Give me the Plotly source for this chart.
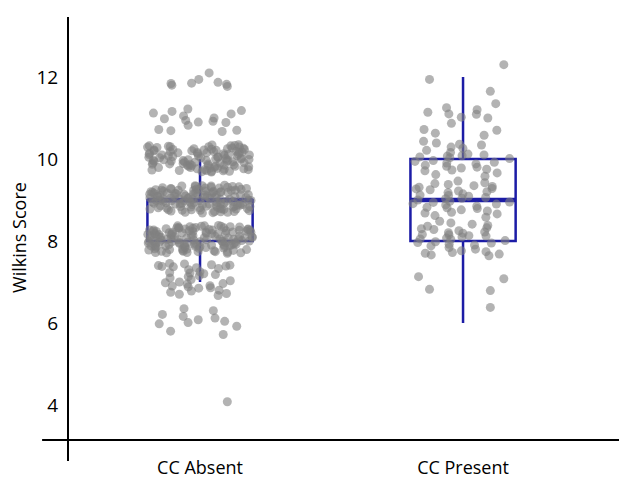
import plotly.graph_objects as go

categories = ["CC Absent", "CC Present"]

# ---- CC Absent: scores, grouped by score level ----
absent_12 = [12.10, 11.94, 11.77, 11.84, 11.82, 11.87, 11.80, 11.85]
absent_11 = [11.18, 11.16, 11.05, 11.10, 11.00, 11.12, 11.22, 10.98, 10.90,
             10.92, 10.89, 10.94, 10.67, 10.69, 10.72, 10.70, 10.82]
absent_10 = [
    10.34, 10.30, 10.25, 10.20, 10.15, 10.10, 10.05, 9.99, 9.92, 9.84, 9.74,
    10.32, 10.27, 10.22, 10.17, 10.12, 10.07, 10.02, 9.96, 9.88, 9.79, 9.70,
    10.33, 10.28, 10.23, 10.18, 10.13, 10.08, 10.03, 9.94, 9.86, 9.77,
    10.31, 10.26, 10.21, 10.16, 10.11, 10.06, 10.00, 9.93, 9.82, 9.72,
    10.35, 10.29, 10.24, 10.19, 10.14, 10.09, 10.04, 9.90, 9.81,
    10.30, 10.25, 10.20, 10.15, 10.10, 10.01, 9.97, 9.87, 9.76,
    10.32, 10.23, 10.18, 10.13, 10.08, 10.03, 9.95, 9.85,
    10.29, 10.22, 10.16, 10.11, 10.04, 9.98, 9.89, 9.68,
    9.98, 9.95, 9.91, 9.88, 9.85, 9.83, 9.80, 9.78, 9.75, 9.73, 9.71, 9.69,
    9.93, 9.87, 9.82, 9.76, 9.74, 9.70, 9.97, 9.90, 9.84, 9.79, 9.72, 10.00,
    9.96,
]
absent_9 = [
    9.35, 9.25, 9.11, 8.99, 8.88, 8.75, 9.30, 9.18, 9.05, 8.94, 8.81, 8.70,
    9.33, 9.22, 9.14, 9.03, 8.92, 8.79, 9.28, 9.16, 9.08, 8.97, 8.85, 8.72,
    9.36, 9.23, 9.12, 9.01, 8.90, 8.78, 9.26, 9.20, 9.04, 8.96, 8.84, 8.74,
    9.32, 9.21, 9.09, 8.98, 8.87, 8.77, 9.29, 9.15, 9.06, 8.93, 8.83, 8.69,
    9.34, 9.19, 9.12, 9.02, 8.90, 8.80, 9.24, 9.17, 9.03, 8.95, 8.86, 8.71,
    9.31, 9.23, 9.10, 9.00, 8.89, 8.76, 9.27, 9.13, 9.05, 8.93, 8.82, 8.73,
    9.33, 9.19, 9.08, 8.98, 8.88, 8.78, 9.29, 9.16, 9.07, 8.91, 8.81, 8.70,
    9.35, 9.26, 9.11, 9.04, 8.91, 8.75, 9.21, 9.14, 9.00, 8.94, 8.84, 8.68,
    9.24, 9.09, 8.97, 8.89, 9.17, 9.06, 8.99, 8.80, 9.28, 9.18, 8.92,
    9.34, 9.27, 9.20, 9.13, 9.06, 8.99, 8.92, 8.85, 8.78, 8.72, 9.31, 9.24,
    9.15, 9.02, 8.95, 8.87, 8.76, 9.10, 8.83, 9.19,
]
absent_8 = [
    8.37, 8.25, 8.14, 8.02, 7.92, 7.79, 8.32, 8.21, 8.08, 7.97, 7.87, 7.73,
    8.35, 8.23, 8.11, 8.00, 7.90, 7.77, 8.30, 8.18, 8.06, 7.95, 7.85, 7.71,
    8.38, 8.27, 8.16, 8.04, 7.93, 7.81, 8.28, 8.20, 8.09, 7.99, 7.88, 7.75,
    8.34, 8.23, 8.13, 8.01, 7.91, 7.78, 8.31, 8.17, 8.06, 7.96, 7.85, 7.72,
    8.36, 8.26, 8.15, 8.03, 7.92, 7.80, 8.27, 8.18, 8.08, 7.98, 7.87, 7.74,
    8.33, 8.22, 8.12, 8.00, 7.90, 7.76, 8.29, 8.19, 8.07, 7.96, 7.86, 7.71,
    8.35, 8.25, 8.14, 8.05, 7.94, 7.82, 8.31, 8.21, 8.10, 7.99, 7.88, 7.75,
    8.37, 8.24, 8.16, 8.02, 7.91, 7.79, 8.28, 8.18, 8.04, 7.97, 7.83, 7.70,
    8.22, 8.10, 8.01, 7.93, 8.32, 8.13, 7.98, 7.86, 8.26, 8.07, 7.89,
    8.36, 8.29, 8.20, 8.12, 8.05, 7.97, 7.89, 7.81, 7.74, 7.72, 8.33, 8.24,
    8.17, 8.03, 7.94, 7.84, 7.77, 8.09, 7.91, 8.27,
]
absent_7 = [7.45, 7.40, 7.42, 7.38, 7.35, 7.41, 7.37, 7.33, 7.39, 7.23, 7.20,
            7.15, 7.13, 7.22, 7.18, 7.06, 7.03, 6.98, 7.00, 6.96, 6.91, 6.88,
            6.80, 6.85, 6.75, 6.70, 6.67, 6.72, 6.90, 6.86, 6.78, 7.44, 7.30,
            7.25, 7.10, 6.95]
absent_6 = [6.35, 6.30, 6.21, 6.16, 6.08, 6.01, 6.04, 5.80, 5.72, 5.98, 6.12, 5.92]
absent_4 = [4.08]

# ---- CC Present ----
present_12 = [12.30, 11.94, 11.65]
present_11 = [11.35, 11.10, 11.20, 11.00, 11.25, 11.02, 11.14, 11.09, 10.87,
              10.70, 10.58, 10.72, 10.63]
present_10 = [10.36, 10.39, 10.26, 10.29, 10.21, 10.34, 10.43, 10.07, 10.05,
              10.08, 10.03, 10.10, 10.01, 10.12, 9.92, 9.94, 9.90, 9.85, 9.82,
              9.78, 9.75, 9.71, 9.66, 9.62, 9.88, 9.80, 9.96, 10.16, 9.58, 9.73]
present_9 = [9.46, 9.42, 9.38, 9.35, 9.31, 9.28, 9.25, 9.22, 9.18, 9.15, 9.12,
             9.09, 9.06, 9.03, 9.00, 8.97, 8.94, 8.91, 8.88, 8.85, 8.82, 8.79,
             8.76, 8.73, 8.70, 8.66, 8.62, 8.58, 9.33, 9.20, 9.11, 8.95, 8.81,
             9.27, 9.04, 8.68, 9.40, 8.90]
present_8 = [8.48, 8.44, 8.41, 8.36, 8.32, 8.28, 8.25, 8.22, 8.19, 8.16, 8.13,
             8.10, 8.07, 8.04, 8.01, 7.98, 7.95, 7.92, 7.88, 7.84, 7.80, 7.76,
             7.72, 7.70, 7.74, 7.68, 7.64, 7.66, 8.30, 8.20, 8.12, 8.05, 7.96,
             8.38, 8.15, 7.90]
present_7 = [7.13, 7.08, 6.82, 6.79]
present_6 = [6.38]

# ---- box statistics (Tukey) ----
box_q1 = [8, 8]
box_median = [9, 9]
box_q3 = [9, 10]
box_lower = [7, 6]
box_upper = [10, 12]
y_tick_values = [4, 6, 8, 10, 12]

BLUE = "#1c1ca6"
POINT = "rgba(128,128,128,0.6)"
CLEAR = "rgba(0,0,0,0)"

# point clouds: dense central levels share one trace (uniform jitter),
# sparse levels get their own so the jitter spans the full width
point_groups = {
    "CC Absent": [absent_12, absent_11, absent_10 + absent_9 + absent_8,
                  absent_7, absent_6, absent_4],
    "CC Present": [present_12, present_11, present_10, present_9, present_8,
                   present_7, present_6],
}

fig = go.Figure()

for i, cat in enumerate(categories):
    fig.add_trace(go.Box(
        x=[cat], q1=[box_q1[i]], median=[box_median[i]], q3=[box_q3[i]],
        lowerfence=[box_lower[i]], upperfence=[box_upper[i]],
        orientation="v", width=0.4, whiskerwidth=0, boxpoints=False,
        fillcolor=CLEAR, line=dict(color=BLUE, width=2.5),
        showlegend=False, hoverinfo="skip",
    ))
    m = box_median[i]
    fig.add_trace(go.Box(
        x=[cat], q1=[m], median=[m], q3=[m], lowerfence=[m], upperfence=[m],
        orientation="v", width=0.4, whiskerwidth=0, boxpoints=False,
        fillcolor=CLEAR, line=dict(color=BLUE, width=4.5),
        showlegend=False, hoverinfo="skip",
    ))

for cat in categories:
    for vals in point_groups[cat]:
        fig.add_trace(go.Box(
            x=[cat] * len(vals), y=vals, orientation="v",
            boxpoints="all", jitter=1, pointpos=0, width=0.4,
            fillcolor=CLEAR, line=dict(color=CLEAR, width=0),
            marker=dict(color=POINT, size=9),
            showlegend=False, hoveron="points",
        ))

fig.update_layout(
    width=619, height=478,
    margin=dict(l=68, r=0, t=17, b=38, autoexpand=False),
    paper_bgcolor="white", plot_bgcolor="white",
    boxmode="overlay",
    font=dict(family="Open Sans", size=19, color="black"),
    xaxis=dict(
        type="category", categoryorder="array", categoryarray=categories,
        range=[-0.502, 1.593], showgrid=False, zeroline=False, showline=False,
        ticks="outside", ticklen=11, tickcolor=CLEAR, automargin=False,
        tickfont=dict(size=18),
    ),
    yaxis=dict(
        range=[3.146, 13.463], tickvals=y_tick_values, showgrid=False,
        zeroline=False, showline=False, ticks="outside", ticklen=5,
        tickcolor=CLEAR, automargin=False,
    ),
    shapes=[
        dict(type="line", xref="paper", yref="paper", x0=0, x1=0,
             y0=-0.0496, y1=1, line=dict(color="black", width=2)),
        dict(type="line", xref="paper", yref="paper", x0=-0.047, x1=1,
             y0=0, y1=0, line=dict(color="black", width=2)),
    ],
    annotations=[
        dict(text="Wilkins Score", textangle=-90, xref="paper", yref="paper",
             x=-0.088, y=0.479, xanchor="center", yanchor="middle",
             showarrow=False, font=dict(size=18, family="Open Sans")),
    ],
)

fig.write_html("out.html", config={"displayModeBar": False},
               post_script="document.body.style.margin='0px';")
